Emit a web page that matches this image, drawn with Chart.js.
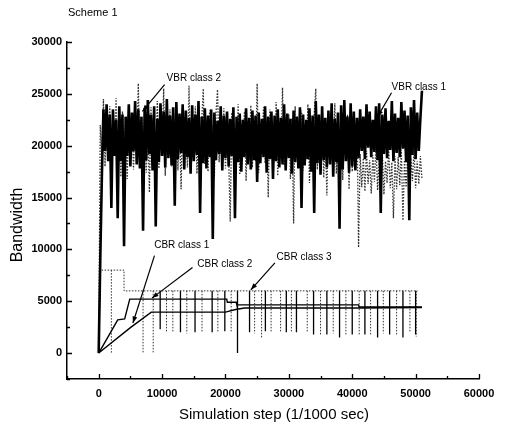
<!DOCTYPE html>
<html>
<head>
<meta charset="utf-8">
<script src="https://cdn.jsdelivr.net/npm/chart.js@4.4.1/dist/chart.umd.min.js"></script>
<style>body{margin:0;background:#fff}canvas{display:block}</style>
</head>
<body>
<canvas id="myChart" width="505" height="432"></canvas>
<script>
// axis ticks
const xTicks = [0, 10000, 20000, 30000, 40000, 50000, 60000];
const xMinor = [-5000, 5000, 15000, 25000, 35000, 45000, 55000];
const yTicks = [0, 5000, 10000, 15000, 20000, 25000, 30000];
const yMinor = [-2500, 2500, 7500, 12500, 17500, 22500, 27500];

// VBR traffic, one sample every vbrStep simulation steps
const vbrStep = 250;
const vbr1 = [
  0, 9000, 17000, 23500, 19500, 24000, 18500, 23000, 14000, 23500,
  19000, 22500, 13000, 23800, 18500, 23000, 10300, 22800, 19000, 24000,
  18000, 23200, 19500, 24300, 18200, 23500, 17800, 22800, 11800, 23600,
  18600, 24400, 19200, 23000, 17600, 23800, 12200, 22600, 18400, 24100,
  19000, 23300, 17900, 24500, 18800, 22900, 18100, 23700, 14200, 24200,
  18700, 23100, 19300, 24000, 17700, 23400, 18900, 22700, 17300, 23900,
  18500, 23000, 19100, 24300, 13500, 22800, 18300, 23600, 17800, 22900,
  18900, 23500, 11000, 23200, 18600, 22400, 19200, 23800, 17600, 22900,
  18800, 23300, 18000, 22600, 19000, 23700, 13000, 22800, 18400, 23100,
  17500, 22500, 18900, 23600, 18200, 22700, 17700, 23400, 18600, 22900,
  16500, 23200, 18300, 22600, 18900, 23800, 17400, 22800, 18700, 23300,
  16800, 22900, 18500, 23500, 17900, 22700, 18200, 24000, 17600, 23100,
  18800, 22600, 17300, 23400, 18400, 22800, 17800, 23700, 14000, 23000,
  18100, 22500, 18700, 23600, 17500, 22900, 13500, 24300, 18300, 23000,
  17200, 23800, 18600, 22700, 17900, 23400, 18200, 24100, 17000, 22600,
  18400, 23200, 12000, 23900, 17700, 24400, 18500, 22800, 17400, 24100,
  18000, 23300, 17600, 22700, 18800, 23500, 19500, 22800, 18700, 24000,
  19800, 23300, 18900, 22500, 19400, 23800, 18600, 24100, 13500, 23000,
  19200, 23600, 18800, 22400, 19600, 24300, 18500, 23100, 19300, 22700,
  18900, 24200, 19700, 23400, 18400, 22900, 12800, 23700, 19100, 24400,
  18700, 23200, 19500, 22600, 25300
];
const vbr2 = [
  0, 22000, 19000, 24500, 18000, 22500, 20000, 23800, 17500, 22200,
  19800, 24600, 18300, 21800, 17000, 23300, 19600, 22100, 16800, 23600,
  19900, 21500, 17700, 24200, 19300, 26000, 18100, 22300, 19700, 23100,
  17400, 21900, 15500, 23700, 19400, 22000, 18200, 24300, 17800, 21600,
  19500, 25500, 17100, 22400, 19800, 23500, 18000, 21700, 19200, 24100,
  17600, 22200, 15800, 23000, 19600, 21400, 17900, 25800, 18700, 22000,
  19900, 23800, 17300, 21800, 19100, 22300, 25500, 18200, 21600, 17500,
  23400, 19300, 22000, 16900, 23100, 25400, 18400, 21900, 19700, 23600,
  17800, 22500, 19000, 12700, 23200, 18600, 21700, 19400, 24000, 17200,
  22100, 19800, 23300, 16600, 21800, 19100, 23900, 17900, 22400, 18500,
  26000, 17400, 21500, 19600, 23700, 18300, 22000, 15000, 23500, 18800,
  21600, 19300, 24200, 17100, 22300, 19000, 25600, 18100, 21900, 19700,
  23000, 16800, 22600, 12500, 23800, 18900, 21400, 19500, 23400, 17600,
  22100, 18700, 24000, 16400, 21700, 19200, 23100, 25500, 17700, 22500,
  18400, 23600, 16900, 21300, 15200, 23300, 18600, 21800, 19400, 24100,
  17300, 22000, 18100, 23500, 16700, 21600, 18900, 23000, 15800, 22400,
  17500, 21200, 18300, 22700, 10200, 19200, 16000, 18800, 15600, 19500,
  16300, 18600, 15400, 19100, 16500, 20200, 15700, 18700, 16100, 19400,
  15300, 18500, 16400, 19800, 15900, 18400, 13000, 19000, 15800, 18900,
  16200, 19600, 12800, 18600, 16000, 19300, 15500, 18800, 16600, 19700,
  15900, 18500, 16300, 19000, 16800
];

// CBR traffic (breakpoints)
const cbr1X = [0, 5000, 8300, 20000, 21600, 23000, 41000, 51000];
const cbr1Y = [0, 2450, 3950, 3950, 4200, 4350, 4350, 4400];
const cbr2X = [0, 1700, 3000, 4100, 4900, 20200, 20300, 21700, 21800, 41000, 41100, 51000];
const cbr2Y = [0, 1800, 3200, 3300, 5200, 5200, 4900, 4900, 4650, 4650, 4450, 4450];
const cbr3X = [0, 300, 4000, 4000, 50300];
const cbr3Y = [0, 8000, 8000, 6000, 6000];

// short drops of the CBR sources
const dotDipX = [2000, 7000, 8600, 10700, 11700, 13900, 16300, 18800, 20900, 24600, 25700, 27200, 28700, 30400, 32900, 35000, 37000, 39000, 41100, 42900, 44900, 47000, 49100, 50100];
const dotDipLow = [0, 0, 0, 2000, 2000, 1900, 2000, 2100, 2000, 1900, 1500, 2000, 2000, 2000, 2000, 1800, 1900, 1800, 1700, 1800, 1900, 1800, 2000, 1600];
const solidDipTop = 6000;
const solidDipX = [9700, 12900, 15200, 17900, 19900, 21900, 23800, 26300, 29600, 31200, 33900, 36000, 38000, 40000, 42000, 44000, 45900, 48000, 50000];
const solidDipLow = [2300, 2000, 2000, 2000, 2100, 0, 2000, 2100, 2000, 2000, 1800, 1800, 1500, 1800, 1800, 1500, 1800, 1500, 1800];

// labels with arrows: text position, arrow start, arrow tip (data units)
const notes = [
  {text: 'VBR class 2', x: 15000, y: 26500, from: [10400, 25900], to: [6900, 23300]},
  {text: 'VBR class 1', x: 50500, y: 25650, from: [46200, 25100], to: [44000, 22800]},
  {text: 'CBR class 1', x: 13100, y: 10400, from: [8800, 9400], to: [5400, 2900]},
  {text: 'CBR class 2', x: 19900, y: 8560, from: [14800, 8250], to: [8400, 5300]},
  {text: 'CBR class 3', x: 32400, y: 9240, from: [27800, 8700], to: [24000, 6100]}
];

const FONT = '"Liberation Sans", Arial, sans-serif';

function pts(xs, ys) { return xs.map((x, i) => ({x: x, y: ys[i]})); }
function vbrPts(v) { return v.map((y, i) => ({x: i * vbrStep, y: y})); }
function levelAt(xs, ys, x) {
  let y = ys[0];
  for (let i = 0; i < xs.length; i++) if (xs[i] <= x) y = ys[i];
  return y;
}
function dipPts(xs, lows, top) {
  const out = [];
  xs.forEach((x, i) => { out.push({x: x, y: top(x)}, {x: x, y: lows[i]}, {x: x, y: null}); });
  return out;
}

const decor = {
  id: 'decor',
  afterDraw(chart) {
    const ctx = chart.ctx, xs = chart.scales.x, ys = chart.scales.y, a = chart.chartArea;
    ctx.save();
    ctx.strokeStyle = '#000';
    ctx.lineWidth = 1.3;
    ctx.beginPath();
    yTicks.forEach(v => { const p = Math.round(ys.getPixelForValue(v)) + 0.5; ctx.moveTo(a.left, p); ctx.lineTo(a.left + 5, p); });
    yMinor.forEach(v => { const p = Math.round(ys.getPixelForValue(v)) + 0.5; ctx.moveTo(a.left, p); ctx.lineTo(a.left + 3, p); });
    xTicks.forEach(v => { const p = Math.round(xs.getPixelForValue(v)) + 0.5; ctx.moveTo(p, a.bottom); ctx.lineTo(p, a.bottom - 5); });
    xMinor.forEach(v => { const p = Math.round(xs.getPixelForValue(v)) + 0.5; ctx.moveTo(p, a.bottom); ctx.lineTo(p, a.bottom - 3); });
    ctx.stroke();

    // annotations
    ctx.fillStyle = '#000';
    ctx.font = '10px ' + FONT;
    ctx.textAlign = 'center';
    ctx.textBaseline = 'middle';
    ctx.lineWidth = 1.2;
    notes.forEach(n => {
      ctx.fillText(n.text, xs.getPixelForValue(n.x), ys.getPixelForValue(n.y));
      const x1 = xs.getPixelForValue(n.from[0]), y1 = ys.getPixelForValue(n.from[1]);
      const x2 = xs.getPixelForValue(n.to[0]), y2 = ys.getPixelForValue(n.to[1]);
      ctx.beginPath(); ctx.moveTo(x1, y1); ctx.lineTo(x2, y2); ctx.stroke();
      const ang = Math.atan2(y2 - y1, x2 - x1);
      ctx.beginPath();
      ctx.moveTo(x2, y2);
      ctx.lineTo(x2 - 7 * Math.cos(ang - 0.35), y2 - 7 * Math.sin(ang - 0.35));
      ctx.lineTo(x2 - 7 * Math.cos(ang + 0.35), y2 - 7 * Math.sin(ang + 0.35));
      ctx.closePath(); ctx.fill();
    });

    // titles
    ctx.textAlign = 'left';
    ctx.font = '11px ' + FONT;
    ctx.fillText('Scheme 1', 68, 13);
    ctx.textAlign = 'center';
    ctx.font = '15px ' + FONT;
    ctx.fillText('Simulation step (1/1000 sec)', 274, 415);
    ctx.translate(18, 225);
    ctx.rotate(-Math.PI / 2);
    ctx.font = '16px ' + FONT;
    ctx.fillText('Bandwidth', 0, 0);
    ctx.restore();
  }
};

const lineDs = (data, extra) => Object.assign({
  data: data, borderColor: '#000', borderWidth: 1, pointRadius: 0, fill: false, tension: 0, spanGaps: false
}, extra);

new Chart('myChart', {
  type: 'line',
  data: {
    datasets: [
      lineDs(vbrPts(vbr1), {label: 'VBR class 1', borderWidth: 2.6}),
      lineDs(vbrPts(vbr2), {label: 'VBR class 2', borderColor: '#333', borderWidth: 1.3, borderDash: [1.5, 1.5]}),
      lineDs(pts(cbr1X, cbr1Y), {label: 'CBR class 1', borderWidth: 1.4}),
      lineDs(pts(cbr2X, cbr2Y), {label: 'CBR class 2', borderWidth: 1.4}),
      lineDs(pts(cbr3X, cbr3Y), {label: 'CBR class 3', borderColor: '#333', borderDash: [1.5, 1.5]}),
      lineDs(dipPts(solidDipX, solidDipLow, () => solidDipTop), {label: 'CBR drops', borderWidth: 1.3}),
      lineDs(dipPts(dotDipX, dotDipLow, x => levelAt(cbr3X, cbr3Y, x)), {label: 'CBR class 3 drops', borderColor: '#333', borderDash: [1.5, 1.5]})
    ]
  },
  options: {
    responsive: false,
    animation: false,
    layout: {padding: {top: 42, right: 26, left: 0, bottom: 0}},
    plugins: {legend: {display: false}, tooltip: {enabled: false}, title: {display: false}},
    scales: {
      x: {
        type: 'linear', min: -5000, max: 60000,
        grid: {display: false, drawTicks: false},
        border: {display: true, color: '#000', width: 1.5},
        ticks: {padding: 8, color: '#000', font: {family: FONT, size: 11, weight: 'bold'}, maxRotation: 0, autoSkip: false, callback: v => String(v)},
        afterBuildTicks: s => { s.ticks = xTicks.map(v => ({value: v})); },
        afterFit: s => { s.height = 53; }
      },
      y: {
        type: 'linear', min: -2500, max: 30000,
        grid: {display: false, drawTicks: false},
        border: {display: true, color: '#000', width: 1.5},
        ticks: {padding: 5, color: '#000', font: {family: FONT, size: 11, weight: 'bold'}, autoSkip: false, callback: v => String(v)},
        afterBuildTicks: s => { s.ticks = yTicks.map(v => ({value: v})); },
        afterFit: s => { s.width = 67; }
      }
    }
  },
  plugins: [decor]
});
</script>
</body>
</html>
